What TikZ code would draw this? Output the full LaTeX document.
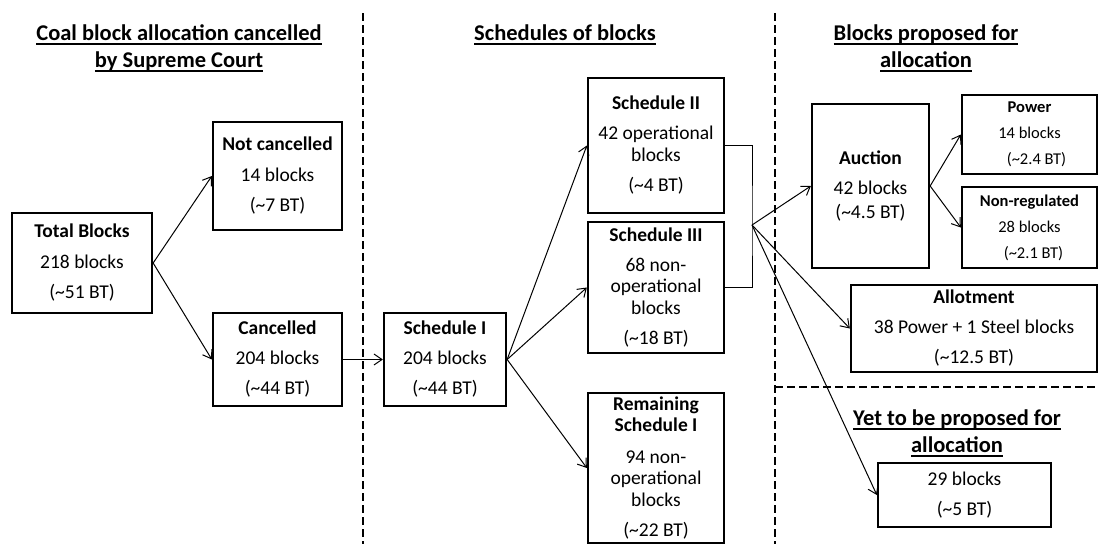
\documentclass[tikz,border=0pt]{standalone}
\usepackage{fontspec}
\setmainfont{Carlito}
\usetikzlibrary{arrows.meta}
\newcommand\myul[1]{\setbox0\hbox{#1}\rlap{\rule[-4.5pt]{\wd0}{2pt}}\box0}
\newcommand\tl{\textasciitilde}
\begin{document}
\begin{tikzpicture}[x=1pt,y=-1pt,
  box/.style={draw, line width=2.3pt, inner sep=0pt, align=center,
    font=\fontsize{19.5}{21.5}\selectfont},
  smallbox/.style={box, font=\fontsize{16.5}{18}\selectfont},
  conn/.style={-{Straight Barb[length=8pt,width=11pt]}, line width=1pt},
  plain/.style={line width=1pt},
  sepline/.style={line width=2.6pt, dash pattern=on 8pt off 4pt},
  ttl/.style={anchor=base, inner sep=0pt, font=\bfseries\fontsize{22.5}{27}\selectfont}]
\useasboundingbox (0,0) rectangle (1098,544);

% separators
\draw[sepline] (363,13) -- (363,544);
\draw[sepline] (775,13) -- (775,544);
\draw[sepline] (775,387) -- (1098,387);

% titles
\node[ttl] (t1a) at (179,40) {\myul{Coal block allocation cancelled}};
\node[ttl] (t1b) at (179,67) {\myul{by Supreme Court}};
\node[ttl] (t2) at (565,40) {\myul{Schedules of blocks}};
\node[ttl] (t3a) at (926,40) {\myul{Blocks proposed for}};
\node[ttl] (t3b) at (926,67) {\myul{allocation}};
\node[ttl] (t4a) at (957,425) {\myul{Yet to be proposed for}};
\node[ttl] (t4b) at (957,452) {\myul{allocation}};

% boxes
\node[box, minimum width=140pt, minimum height=100pt] (total) at (82,263)
  {\textbf{Total Blocks}\\[9pt]218 blocks\\[9pt](\tl51 BT)};
\node[box, minimum width=129pt, minimum height=108pt] (notc) at (277.5,176)
  {\textbf{Not cancelled}\\[9pt]14 blocks\\[9pt](\tl7 BT)};
\node[box, minimum width=129pt, minimum height=93pt] (canc) at (277.5,359.5)
  {\textbf{Cancelled}\\[8pt]204 blocks\\[9pt](\tl44 BT)};
\node[box, minimum width=122pt, minimum height=93pt] (s1) at (445,359.5)
  {\textbf{Schedule I}\\[8pt]204 blocks\\[9pt](\tl44 BT)};
\node[box, minimum width=136pt, minimum height=135pt] (s2) at (656,145.5)
  {\textbf{Schedule II}\\[8.5pt]42 operational\\blocks\\[9pt](\tl4 BT)};
\node[box, minimum width=136pt, minimum height=131pt] (s3) at (656,287.5)
  {\textbf{Schedule III}\\[8.5pt]68 non-\\operational\\blocks\\[9pt](\tl18 BT)};
\node[box, minimum width=136pt, minimum height=150pt] (rem) at (656,468)
  {\textbf{Remaining}\\\textbf{Schedule I}\\[10pt]94 non-\\operational\\blocks\\[9pt](\tl22 BT)};
\node[box, minimum width=117pt, minimum height=164pt] (auc) at (870.5,186)
  {\textbf{Auction}\\[9pt]42 blocks\\[2.5pt](\tl4.5 BT)};
\node[smallbox, minimum width=135pt, minimum height=79pt] (pow) at (1029.5,134.5)
  {\textbf{Power}\\[8pt]14 blocks\\[8pt]\hspace*{14pt}(\tl2.4 BT)};
\node[smallbox, minimum width=135pt, minimum height=81pt] (nonreg) at (1029.5,227.5)
  {\textbf{Non-regulated}\\[8pt]28 blocks\\[8pt]\hspace*{8pt}(\tl2.1 BT)};
\node[box, minimum width=246pt, minimum height=87pt] (allot) at (974,328.5)
  {\textbf{Allotment}\\[8.5pt]38 Power + 1 Steel blocks\\[8.5pt](\tl12.5 BT)};
\node[box, minimum width=173pt, minimum height=64pt] (yet) at (964.5,495)
  {29 blocks\\[8.5pt](\tl5 BT)};

% connectors
\draw[conn] (total.east) -- (notc.west);
\draw[conn] (total.east) -- (canc.west);
\draw[conn] (canc.east) -- (s1.west);
\draw[conn] (s1.east) -- (s2.west);
\draw[conn] (s1.east) -- (s3.west);
\draw[conn] (s1.east) -- (rem.west);
\coordinate (br) at (752,225);
\draw[plain] (s2.east) -| (br) |- (s3.east);
\draw[conn] (br) -- (auc.west);
\draw[conn] (br) -- (allot.west);
\draw[conn] (br) -- (yet.west);
\draw[conn] (auc.east) -- (pow.west);
\draw[conn] (auc.east) -- (nonreg.west);
\end{tikzpicture}
\end{document}
